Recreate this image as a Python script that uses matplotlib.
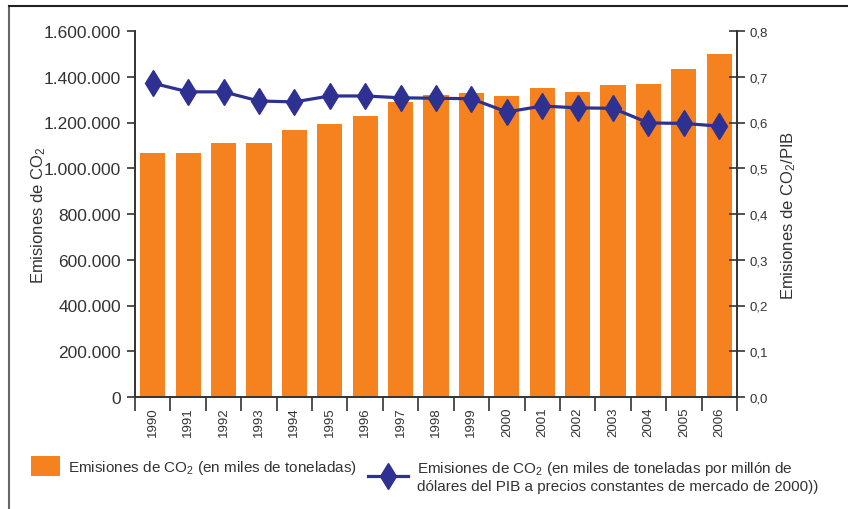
import numpy as np
import matplotlib.pyplot as plt
from matplotlib.lines import Line2D
from matplotlib.patches import Patch
from matplotlib.ticker import FuncFormatter, FixedLocator

plt.rcParams['font.family'] = ['Liberation Sans', 'DejaVu Sans']
plt.rcParams['mathtext.fontset'] = 'custom'
plt.rcParams['mathtext.rm'] = 'Liberation Sans'
plt.rcParams['mathtext.it'] = 'Liberation Sans:italic'

years = [str(y) for y in range(1990, 2007)]
emisiones = [1065000, 1065000, 1110000, 1110000, 1167000, 1193000, 1228000,
             1290000, 1320000, 1329000, 1316000, 1351000, 1333000, 1364000,
             1368000, 1434000, 1499000]
intensidad = [0.686, 0.667, 0.667, 0.647, 0.645, 0.658, 0.658, 0.654, 0.653,
              0.652, 0.623, 0.636, 0.632, 0.631, 0.599, 0.598, 0.592]

orange = '#F5821F'
navy = '#2E3192'
dark = '#333333'

fig = plt.figure(figsize=(8.48, 5.10), dpi=100)
ax = fig.add_axes([135/848, 1-398/510, 602/848, 366/510])
ax2 = ax.twinx()

x = np.arange(len(years))
ax.bar(x, emisiones, width=0.71, color=orange, zorder=2)
ax2.plot(x, intensidad, color=navy, lw=2.3, marker='d', ms=13.5, zorder=3)

ax.set_xlim(-0.5, len(years) - 0.5)
ax.set_ylim(0, 1600000)
ax2.set_ylim(0, 0.8)

ax.set_yticks(np.arange(0, 1600001, 200000))
ax.yaxis.set_major_formatter(FuncFormatter(lambda v, p: f'{int(v):,}'.replace(',', '.')))
ax2.set_yticks(np.arange(0, 0.81, 0.1))
ax2.yaxis.set_major_formatter(FuncFormatter(lambda v, p: f'{v:.1f}'.replace('.', ',')))

# x ticks at category boundaries, labels at centres
ax.xaxis.set_major_locator(FixedLocator(np.arange(-0.5, len(years), 1.0)))
ax.xaxis.set_major_formatter(FuncFormatter(lambda v, p: ''))
ax.set_xticks(x, minor=True)
ax.set_xticklabels(years, minor=True, rotation=90, fontsize=9.5, color=dark)
ax.tick_params(axis='x', which='major', length=10, width=1.2, color=dark, direction='out')
ax.tick_params(axis='x', which='minor', length=0, pad=7)

ax.tick_params(axis='y', length=6, width=1.2, color=dark, labelsize=12.5, labelcolor=dark, pad=4)
ax2.tick_params(axis='y', length=12, width=1.2, color=dark, direction='inout',
                labelsize=9.5, labelcolor=dark, pad=3)

for a in (ax, ax2):
    a.spines['top'].set_visible(False)
    for s in ('left', 'right', 'bottom'):
        a.spines[s].set_color(dark)
        a.spines[s].set_linewidth(1.2)

ax.set_ylabel('Emisiones de CO$_2$', fontsize=12, color=dark, labelpad=-3)
ax2.set_ylabel('Emisiones de CO$_2$/PIB', fontsize=12, color=dark, labelpad=8)

# frame lines around the figure
fig.add_artist(Line2D([9/848, 9/848], [0, 1-7/510], color='#666666', lw=1.5))
fig.add_artist(Line2D([9/848, 1], [1-7/510, 1-7/510], color='#222222', lw=1.5))

h1 = Patch(facecolor=orange, edgecolor='none')
h2 = Line2D([], [], color=navy, lw=2.3, marker='d', ms=13.5)
fig.legend([h1], ['Emisiones de CO$_2$ (en miles de toneladas)'],
           loc='upper left', bbox_to_anchor=(31/848, 1-457/510), frameon=False,
           fontsize=11, handlelength=1.9, handleheight=1.6, handletextpad=0.5,
           borderaxespad=0, borderpad=0, labelcolor=dark)
fig.legend([h2], ['Emisiones de CO$_2$ (en miles de toneladas por millón de\n'
                  'dólares del PIB a precios constantes de mercado de 2000))'],
           loc='upper left', bbox_to_anchor=(368/848, 1-460/510), frameon=False,
           fontsize=11, handlelength=2.6, handletextpad=0.6,
           borderaxespad=0, borderpad=0, labelcolor=dark)

fig.savefig('out.png', dpi=100)
